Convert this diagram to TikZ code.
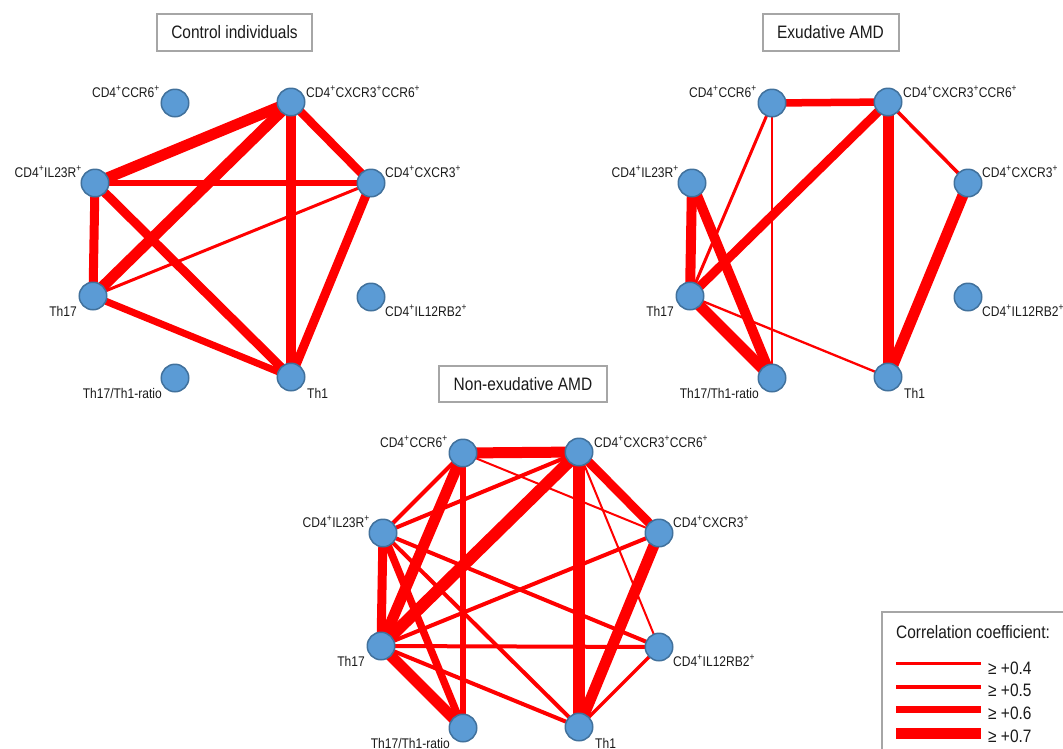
\documentclass[tikz,border=0pt]{standalone}
\usepackage{fontspec}
\setmainfont{Liberation Sans}
\newfontfamily\narrowf[FakeStretch=0.86]{Liberation Sans}
\usetikzlibrary{backgrounds}
\definecolor{nodefill}{HTML}{5B9BD5}
\definecolor{nodeline}{HTML}{41719C}
\definecolor{boxgray}{HTML}{A6A6A6}
\definecolor{txt}{HTML}{1A1A1A}
\newcommand\pl{\textsuperscript{+}}
\newcommand\mkpanel[3]{%
  \node[pt] (#1A) at ({175+#2},{103+#3}) {};
  \node[pt] (#1B) at ({291+#2},{102+#3}) {};
  \node[pt] (#1C) at ({371+#2},{183+#3}) {};
  \node[pt] (#1D) at ({371+#2},{297+#3}) {};
  \node[pt] (#1E) at ({291+#2},{377+#3}) {};
  \node[pt] (#1F) at ({175+#2},{378+#3}) {};
  \node[pt] (#1G) at ({93+#2},{296+#3}) {};
  \node[pt] (#1H) at ({95+#2},{183+#3}) {};
  \node[lbl,anchor=base east] (#1Al) at ([shift={(-15,-6)}]#1A.center) {CD4\pl CCR6\pl};
  \node[lbl,anchor=base west] (#1Bl) at ([shift={(15,-5)}]#1B.center) {CD4\pl CXCR3\pl CCR6\pl};
  \node[lbl,anchor=base west] (#1Cl) at ([shift={(14,-6)}]#1C.center) {CD4\pl CXCR3\pl};
  \node[lbl,anchor=base west] (#1Dl) at ([shift={(14,19)}]#1D.center) {CD4\pl IL12RB2\pl};
  \node[lbl,anchor=base west] (#1El) at ([shift={(16,21)}]#1E.center) {Th1};
  \node[lbl,anchor=base east] (#1Fl) at ([shift={(-13,20)}]#1F.center) {Th17/Th1-ratio};
  \node[lbl,anchor=base east] (#1Gl) at ([shift={(-16,20)}]#1G.center) {Th17};
  \node[lbl,anchor=base east] (#1Hl) at ([shift={(-13,-6)}]#1H.center) {CD4\pl IL23R\pl};
}
\newcommand\ed[3]{\draw[corr=#1] (#2.center) -- (#3.center);}
\begin{document}
\begin{tikzpicture}[x=1pt,y=-1pt,
  pt/.style={circle, fill=nodefill, draw=nodeline, line width=1.5pt, minimum size=27.5pt, inner sep=0pt},
  lbl/.style={text=txt, font=\narrowf\fontsize{14}{16}\selectfont, inner sep=0pt},
  corr/.style={draw=red, line width=#1pt},
  ttl/.style={draw=boxgray, line width=2pt, font=\narrowf\fontsize{18}{21}\selectfont, text=txt, inner sep=0pt},
  leg/.style={text=txt, font=\narrowf\fontsize{18}{21}\selectfont, inner sep=0pt}]
\useasboundingbox (0,0) rectangle (1063,748);

% titles
\node[ttl, minimum width=155pt, minimum height=37pt] (t1) at (234.5,32.5) {Control individuals};
\node[ttl, minimum width=136pt, minimum height=37pt] (t2) at (830.5,32.5) {Exudative AMD};
\node[ttl, minimum width=168pt, minimum height=36pt] (t3) at (523,384) {Non-exudative AMD};

% panels
\mkpanel{c}{0}{0}
\mkpanel{x}{597}{0}
\mkpanel{n}{288}{350}

\begin{pgfonlayer}{background}
% control
\ed{11}{cH}{cB}
\ed{11}{cG}{cB}
\ed{10}{cB}{cE}
\ed{8.5}{cB}{cC}
\ed{5.5}{cH}{cC}
\ed{3}{cG}{cC}
\ed{9}{cH}{cG}
\ed{9}{cH}{cE}
\ed{7}{cG}{cE}
\ed{9}{cC}{cE}
% exudative
\ed{7.5}{xA}{xB}
\ed{3}{xA}{xG}
\ed{1.8}{xA}{xF}
\ed{9}{xB}{xG}
\ed{11}{xB}{xE}
\ed{3.5}{xB}{xC}
\ed{11}{xC}{xE}
\ed{10}{xH}{xG}
\ed{10}{xH}{xF}
\ed{11}{xG}{xF}
\ed{2.3}{xG}{xE}
% non-exudative
\ed{11}{nA}{nB}
\ed{2}{nA}{nC}
\ed{4}{nA}{nH}
\ed{11}{nA}{nG}
\ed{6.5}{nA}{nF}
\ed{4}{nB}{nH}
\ed{12}{nB}{nG}
\ed{12}{nB}{nE}
\ed{9}{nB}{nC}
\ed{2}{nB}{nD}
\ed{4}{nC}{nG}
\ed{11}{nC}{nE}
\ed{9}{nH}{nG}
\ed{7.5}{nH}{nF}
\ed{4}{nH}{nD}
\ed{4}{nH}{nE}
\ed{4}{nG}{nD}
\ed{4}{nG}{nE}
\ed{11}{nG}{nF}
\ed{3.5}{nD}{nE}
\end{pgfonlayer}

% legend
\begin{scope}
\clip (0,0) rectangle (1063,748);
\draw[boxgray, line width=2.5pt] (882,612) rectangle (1090,780);
\end{scope}
\node[leg, anchor=base west] (lt) at (896,638) {Correlation coefficient:};
\node[leg, anchor=base west] (lv1) at (988,674) {≥ +0.4};
\node[leg, anchor=base west] (lv2) at (988,696) {≥ +0.5};
\node[leg, anchor=base west] (lv3) at (988,719) {≥ +0.6};
\node[leg, anchor=base west] (lv4) at (988,742) {≥ +0.7};
\draw[corr=2.3] (896,663.5) coordinate (la1) -- (981,663.5) coordinate (lb1);
\draw[corr=4] (896,686.5) coordinate (la2) -- (981,686.5) coordinate (lb2);
\draw[corr=7] (896,709.5) coordinate (la3) -- (981,709.5) coordinate (lb3);
\draw[corr=11] (896,733) coordinate (la4) -- (981,733) coordinate (lb4);
\end{tikzpicture}
\end{document}
